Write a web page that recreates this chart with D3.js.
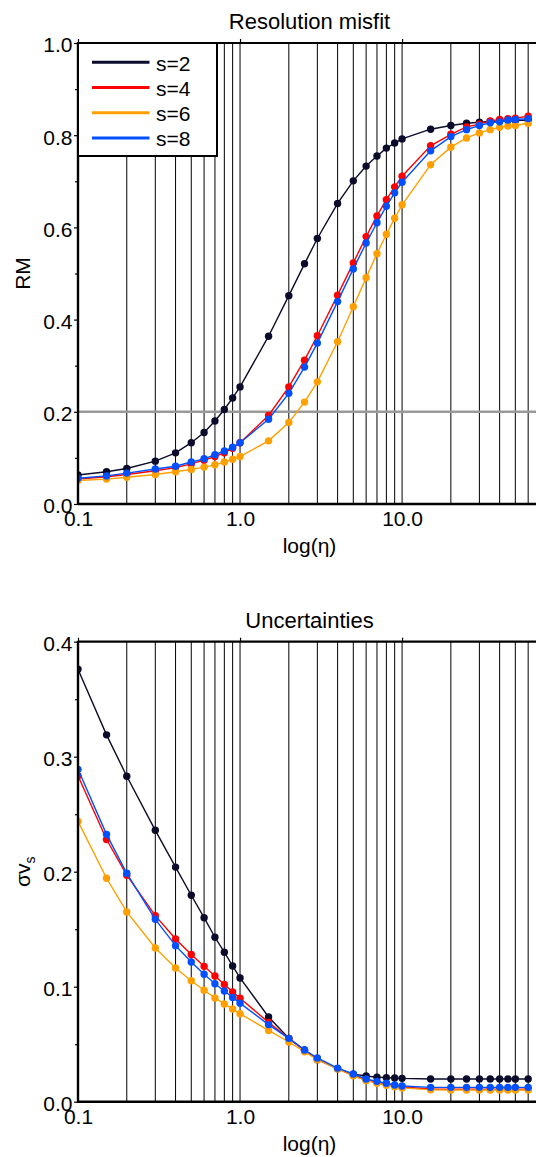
<!DOCTYPE html>
<html>
<head>
<meta charset="utf-8">
<script src="https://cdn.jsdelivr.net/npm/d3@7"></script>
<style>
  html, body { margin: 0; padding: 0; background: #fff; }
  svg { display: block; }
  text { font-family: "Liberation Sans", Arial, Helvetica, sans-serif; fill: #000; }
</style>
</head>
<body>
<svg id="fig" width="536" height="1157"></svg>
<script>
// Regularisation parameter eta (shared by both panels)
const eta = [0.1, 0.15, 0.2, 0.3, 0.4, 0.5, 0.6, 0.7, 0.8, 0.9, 1, 1.5, 2, 2.5, 3, 4, 5, 6, 7, 8, 9, 10,
             15, 20, 25, 30, 35, 40, 45, 50, 60];

const seriesNames = ["s=2", "s=4", "s=6", "s=8"];
const seriesColors = ["#0b0b2b", "#ff0000", "#ffa000", "#0050ff"];

// Resolution misfit
const rmS2 = [0.063, 0.070, 0.077, 0.093, 0.111, 0.133, 0.155, 0.180, 0.205, 0.230, 0.254, 0.364, 0.452, 0.521, 0.576,
              0.652, 0.701, 0.733, 0.755, 0.772, 0.783, 0.792, 0.813, 0.821, 0.826, 0.828, 0.830, 0.831, 0.832, 0.832, 0.833];
const rmS4 = [0.054, 0.059, 0.064, 0.072, 0.079, 0.087, 0.095, 0.103, 0.111, 0.121, 0.133, 0.192, 0.254, 0.312, 0.365,
              0.453, 0.523, 0.580, 0.625, 0.660, 0.688, 0.711, 0.777, 0.802, 0.818, 0.824, 0.831, 0.834, 0.836, 0.837, 0.841];
const rmS6 = [0.051, 0.054, 0.058, 0.064, 0.070, 0.075, 0.080, 0.085, 0.091, 0.097, 0.103, 0.137, 0.177, 0.221, 0.265,
              0.352, 0.428, 0.491, 0.543, 0.585, 0.620, 0.649, 0.736, 0.774, 0.794, 0.805, 0.812, 0.817, 0.820, 0.821, 0.826];
const rmS8 = [0.056, 0.061, 0.067, 0.076, 0.082, 0.091, 0.098, 0.107, 0.115, 0.123, 0.133, 0.184, 0.240, 0.297, 0.349,
              0.439, 0.510, 0.566, 0.610, 0.646, 0.675, 0.698, 0.766, 0.797, 0.812, 0.821, 0.827, 0.829, 0.833, 0.834, 0.836];

// Uncertainties of vs
const sdS2 = [0.376, 0.319, 0.283, 0.236, 0.204, 0.1795, 0.160, 0.143, 0.130, 0.118, 0.1076, 0.0737, 0.0551, 0.045, 0.0365,
              0.0287, 0.024, 0.0223, 0.0212, 0.0209, 0.0206, 0.0203, 0.0197, 0.0197, 0.0197, 0.0197, 0.0197, 0.0197, 0.0197, 0.0197, 0.0197];
const sdS4 = [0.2835, 0.228, 0.197, 0.1618, 0.1415, 0.128, 0.1177, 0.1093, 0.102, 0.0955, 0.0899, 0.069, 0.055, 0.0445, 0.037,
              0.0288, 0.0228, 0.0189, 0.0168, 0.0152, 0.0138, 0.0128, 0.0110, 0.0108, 0.0108, 0.0108, 0.0108, 0.0108, 0.0108, 0.0108, 0.0108];
const sdS6 = [0.2438, 0.1943, 0.165, 0.1337, 0.1163, 0.1052, 0.0969, 0.0902, 0.085, 0.0806, 0.0765, 0.062, 0.0519, 0.0435, 0.0365,
              0.0285, 0.0225, 0.0183, 0.016, 0.0143, 0.013, 0.012, 0.0103, 0.0102, 0.0102, 0.0102, 0.0102, 0.0102, 0.0102, 0.0102, 0.0102];
const sdS8 = [0.289, 0.2325, 0.1986, 0.1586, 0.1357, 0.1215, 0.1108, 0.1026, 0.0963, 0.0906, 0.0857, 0.067, 0.0551, 0.045, 0.038,
              0.0292, 0.0241, 0.0197, 0.0177, 0.016, 0.0145, 0.0137, 0.0125, 0.0125, 0.0125, 0.0125, 0.0125, 0.0125, 0.0125, 0.0125, 0.0125];

// Axis ticks and grid
const xTickLabels = [0.1, 1, 10];
const xGrid = [0.2, 0.3, 0.4, 0.5, 0.6, 0.7, 0.8, 0.9, 1, 2, 3, 4, 5, 6, 7, 8, 9, 10, 20, 30, 40, 50, 60, 70];
const rmTicks = [0, 0.2, 0.4, 0.6, 0.8, 1.0];
const rmMinor = [0.1, 0.3, 0.5, 0.7, 0.9];
const sdTicks = [0, 0.1, 0.2, 0.3, 0.4];
const sdMinor = [0.05, 0.15, 0.25, 0.35];
const rmRefLine = 0.2;

const svg = d3.select("#fig");
const FONT = 21;
const TITLE_FONT = 22;
const left = 78, right = 541;

const x = d3.scaleLog().domain([0.1, 72]).range([left, right]);

function panel(cfg) {
  const y = d3.scaleLinear().domain(cfg.yDomain).range([cfg.bottom, cfg.top]);
  const g = svg.append("g");
  const clipId = "clip-" + cfg.id;
  svg.append("clipPath").attr("id", clipId)
    .append("rect").attr("x", left).attr("y", cfg.top).attr("width", right - left).attr("height", cfg.bottom - cfg.top);

  // vertical grid
  g.append("g").selectAll("line").data(xGrid).join("line")
    .attr("x1", d => x(d)).attr("x2", d => x(d))
    .attr("y1", cfg.top).attr("y2", cfg.bottom)
    .attr("stroke", "#000").attr("stroke-width", 1);

  if (cfg.refLine !== undefined) {
    g.append("line")
      .attr("x1", left).attr("x2", right)
      .attr("y1", y(cfg.refLine)).attr("y2", y(cfg.refLine))
      .attr("stroke", "#9a9a9a").attr("stroke-width", 2.6);
  }

  // series
  const data = g.append("g").attr("clip-path", `url(#${clipId})`);
  const line = d3.line().x((d, i) => x(eta[i])).y(d => y(d));
  cfg.series.forEach((vals, k) => {
    data.append("path").datum(vals)
      .attr("d", line).attr("fill", "none")
      .attr("stroke", seriesColors[k]).attr("stroke-width", 1.4);
    data.append("g").selectAll("circle").data(vals).join("circle")
      .attr("cx", (d, i) => x(eta[i])).attr("cy", d => y(d))
      .attr("r", 3.7).attr("fill", seriesColors[k]);
  });

  // frame
  g.append("line").attr("x1", left).attr("x2", right + 5).attr("y1", cfg.top).attr("y2", cfg.top)
    .attr("stroke", "#000").attr("stroke-width", 2.2);
  g.append("line").attr("x1", left).attr("x2", right + 5).attr("y1", cfg.bottom).attr("y2", cfg.bottom)
    .attr("stroke", "#000").attr("stroke-width", 2.6);
  g.append("line").attr("x1", left).attr("x2", left).attr("y1", cfg.top - 1).attr("y2", cfg.bottom + 1)
    .attr("stroke", "#000").attr("stroke-width", 2.4);

  // left axis: minor then labelled ticks
  const yMinor = d3.axisLeft(y).tickValues(cfg.minor).tickSize(3).tickFormat("");
  g.append("g").attr("transform", `translate(${left},0)`).call(yMinor)
    .call(a => a.select(".domain").remove())
    .call(a => a.selectAll("line").attr("stroke-width", 1.2));
  const yMajor = d3.axisLeft(y).tickValues(cfg.ticks).tickSize(4).tickPadding(1.5).tickFormat(d3.format(".1f"));
  g.append("g").attr("transform", `translate(${left},0)`).call(yMajor)
    .call(a => a.select(".domain").remove())
    .call(a => a.selectAll("line").attr("stroke-width", 1.2))
    .call(a => a.selectAll("text").attr("font-size", FONT).attr("dy", "0.42em")
      .style("font-family", '"Liberation Sans", Arial, sans-serif'));

  // top ticks at decades
  const xTop = d3.axisTop(x).tickValues(xTickLabels).tickSize(4).tickFormat("");
  g.append("g").attr("transform", `translate(0,${cfg.top})`).call(xTop)
    .call(a => a.select(".domain").remove())
    .call(a => a.selectAll("line").attr("stroke-width", 1.2));

  // bottom labels
  const xBot = d3.axisBottom(x).tickValues(xTickLabels).tickSize(0).tickPadding(7).tickFormat(d3.format(".1f"));
  g.append("g").attr("transform", `translate(0,${cfg.bottom})`).call(xBot)
    .call(a => a.select(".domain").remove())
    .call(a => a.selectAll("text").attr("font-size", FONT)
      .style("font-family", '"Liberation Sans", Arial, sans-serif'));

  // title
  svg.append("text").attr("x", (left + right) / 2).attr("y", cfg.top - 14)
    .attr("text-anchor", "middle").attr("font-size", TITLE_FONT).text(cfg.title);

  // x label
  svg.append("text").attr("x", (left + right) / 2).attr("y", cfg.bottom + 49)
    .attr("text-anchor", "middle").attr("font-size", FONT).text("log(η)");

  return { g, y };
}

// Resolution misfit panel
const p1 = panel({
  id: "rm", top: 43, bottom: 504, yDomain: [0, 1],
  ticks: rmTicks, minor: rmMinor, refLine: rmRefLine,
  series: [rmS2, rmS4, rmS6, rmS8], title: "Resolution misfit"
});

svg.append("text")
  .attr("transform", `translate(30,${(43 + 504) / 2}) rotate(-90)`)
  .attr("text-anchor", "middle").attr("font-size", FONT).text("RM");

// legend
const leg = p1.g.append("g");
leg.append("rect").attr("x", left).attr("y", 43).attr("width", 139).attr("height", 113)
  .attr("fill", "#fff").attr("stroke", "#000").attr("stroke-width", 2);
seriesNames.forEach((name, k) => {
  const ly = 62.3 + k * 25.2;
  leg.append("line").attr("x1", 92).attr("x2", 149.5).attr("y1", ly).attr("y2", ly)
    .attr("stroke", seriesColors[k]).attr("stroke-width", 3);
  leg.append("text").attr("x", 156).attr("y", ly + 8.3).attr("font-size", FONT).text(name);
});

// Uncertainty panel
panel({
  id: "sd", top: 641.7, bottom: 1101.7, yDomain: [0, 0.4],
  ticks: sdTicks, minor: sdMinor,
  series: [sdS2, sdS4, sdS6, sdS8], title: "Uncertainties"
});

const yl = svg.append("text")
  .attr("transform", `translate(30,${(641.7 + 1101.7) / 2}) rotate(-90)`)
  .attr("text-anchor", "middle").attr("font-size", FONT);
yl.append("tspan").text("σv");
yl.append("tspan").attr("font-size", 14).attr("dy", 5).text("s");
</script>
</body>
</html>
